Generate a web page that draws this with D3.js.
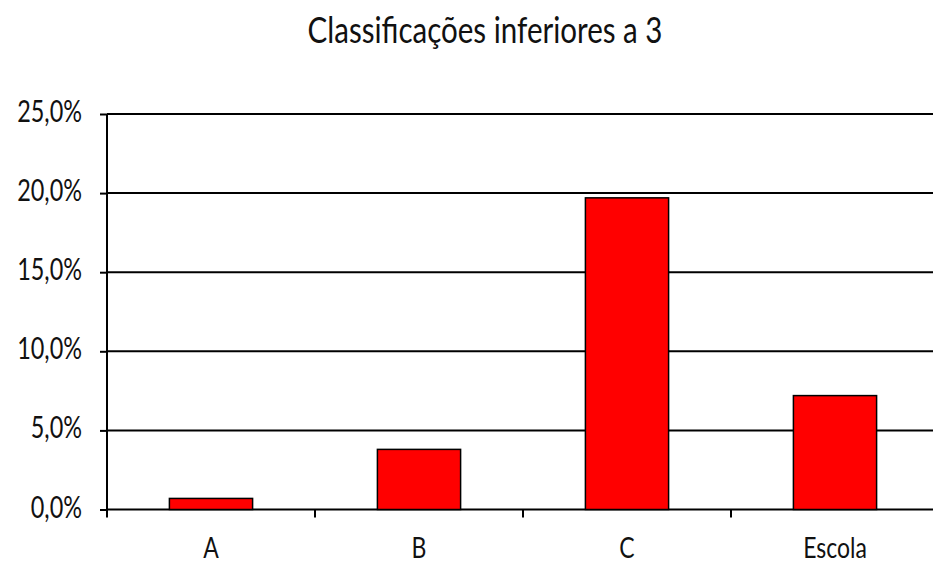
<!DOCTYPE html>
<html>
<head>
<meta charset="utf-8">
<script src="https://cdn.jsdelivr.net/npm/d3@7"></script>
<style>
  body { margin: 0; background: #fff; }
  svg { display: block; }
  text { font-family: Lato, "Open Sans", sans-serif; fill: #111; }
</style>
</head>
<body>
<svg id="chart"></svg>
<script>
var categories = ["A", "B", "C", "Escola"];
var values = [0.007, 0.038, 0.197, 0.072];
var yTicks = [0, 0.05, 0.10, 0.15, 0.20, 0.25];
var title = "Classificações inferiores a 3";

var width = 933, height = 563;
var plot = {left: 107, right: 939, top: 114, bottom: 509.5};

var svg = d3.select("#chart")
    .attr("width", width)
    .attr("height", height);

var x = d3.scaleBand()
    .domain(categories)
    .range([plot.left, plot.right])
    .paddingInner(0);

var y = d3.scaleLinear()
    .domain([0, 0.25])
    .range([plot.bottom, plot.top]);

var fmt = function(d) { return d3.format(".1%")(d).replace(".", ","); };

// the original font is narrow, so squeeze text horizontally
function narrow(k) {
  return function(sel) {
    sel.each(function() {
      var w = this.getComputedTextLength();
      d3.select(this)
        .attr("textLength", w * k)
        .attr("lengthAdjust", "spacingAndGlyphs");
    });
  };
}

// gridlines
svg.append("g")
  .selectAll("line")
  .data(yTicks)
  .enter().append("line")
    .attr("x1", plot.left)
    .attr("x2", width)
    .attr("y1", function(d) { return y(d); })
    .attr("y2", function(d) { return y(d); })
    .attr("stroke", "#000")
    .attr("stroke-width", 2);

// bars
var barW = x.bandwidth() / 2.5;
svg.selectAll(".bar")
  .data(values)
  .enter().append("rect")
    .attr("class", "bar")
    .attr("x", function(d, i) { return x(categories[i]) + (x.bandwidth() - barW) / 2; })
    .attr("width", barW)
    .attr("y", function(d) { return y(d); })
    .attr("height", function(d) { return plot.bottom - y(d); })
    .attr("fill", "#ff0000")
    .attr("stroke", "#000")
    .attr("stroke-width", 1.5);

// y axis
var yAxis = svg.append("g")
  .attr("transform", "translate(" + plot.left + ",0)")
  .call(d3.axisLeft(y).tickValues(yTicks).tickFormat(fmt).tickSize(7).tickPadding(18));
yAxis.select(".domain").remove();
yAxis.selectAll("line").attr("stroke", "#000").attr("stroke-width", 2);
yAxis.selectAll("text")
  .attr("font-size", 30)
  .attr("font-family", "Lato, sans-serif")
  .attr("fill", "#111")
  .attr("dy", "0.25em")
  .call(narrow(0.78));

svg.append("line")
  .attr("x1", plot.left).attr("x2", plot.left)
  .attr("y1", plot.top).attr("y2", plot.bottom + 8)
  .attr("stroke", "#000").attr("stroke-width", 2);

// x axis
svg.append("g")
  .selectAll("line")
  .data(categories.slice(1))
  .enter().append("line")
    .attr("x1", function(d) { return x(d); })
    .attr("x2", function(d) { return x(d); })
    .attr("y1", plot.bottom)
    .attr("y2", plot.bottom + 8)
    .attr("stroke", "#000")
    .attr("stroke-width", 2);

var xAxis = svg.append("g")
  .attr("transform", "translate(0," + plot.bottom + ")")
  .call(d3.axisBottom(x).tickSize(0).tickPadding(29));
xAxis.select(".domain").remove();
xAxis.selectAll("text")
  .attr("font-size", 28)
  .attr("font-family", "Lato, sans-serif")
  .attr("fill", "#111")
  .call(narrow(0.82));

// title
svg.append("text")
  .attr("x", 485)
  .attr("y", 43)
  .attr("text-anchor", "middle")
  .attr("font-size", 36)
  .text(title)
  .call(narrow(0.82));
</script>
</body>
</html>
